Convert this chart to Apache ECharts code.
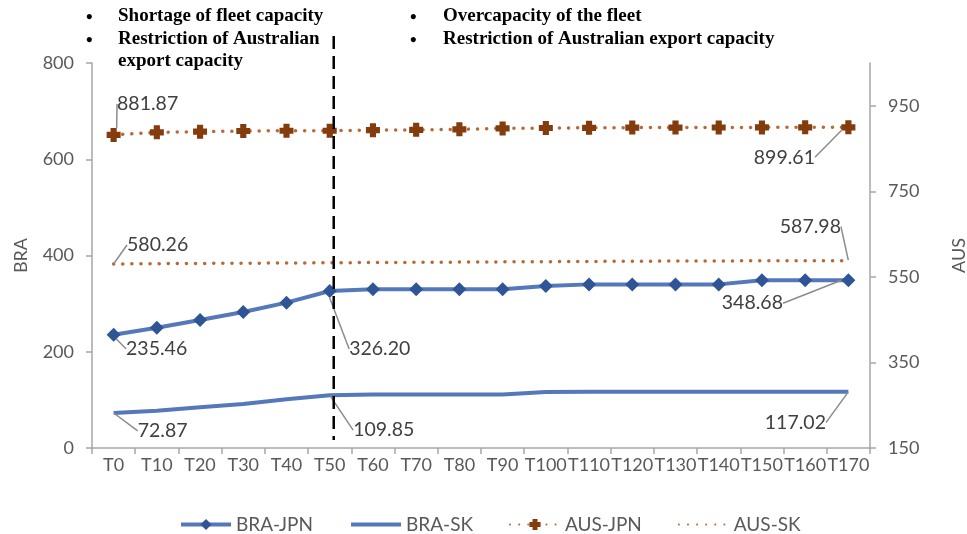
<!DOCTYPE html>
<html>
<head>
<meta charset="utf-8">
<script src="https://cdn.jsdelivr.net/npm/echarts@6/dist/echarts.min.js"></script>
<style>
  html, body { margin: 0; padding: 0; background: #fff; }
  #chart { width: 967px; height: 534px; }
</style>
</head>
<body>
<div id="chart"></div>
<script>
// Time steps shared by all four routes
const categories = ['T0','T10','T20','T30','T40','T50','T60','T70','T80','T90',
  'T100','T110','T120','T130','T140','T150','T160','T170'];

// Brazil routes (left axis)
const braJpn = [235.46, 250.0, 266.0, 282.5, 302.0, 326.20, 330.0, 330.0, 330.0, 330.0,
  336.5, 340.0, 340.0, 340.0, 340.0, 348.68, 348.68, 348.68];
const braSk = [72.87, 77.5, 84.6, 91.3, 101.2, 109.85, 111.3, 111.3, 111.3, 111.3,
  116.5, 117.02, 117.02, 117.02, 117.02, 117.02, 117.02, 117.02];

// Australian routes (right axis)
const ausJpn = [881.87, 888.0, 889.4, 891.0, 891.7, 891.7, 893.0, 893.7, 895.0, 897.0,
  898.0, 898.5, 899.0, 899.0, 899.3, 899.5, 899.6, 899.61];
const ausSk = [580.26, 580.9, 581.5, 582.0, 582.4, 583.0, 583.6, 584.0, 584.6, 585.1,
  585.6, 586.1, 586.6, 587.0, 587.3, 587.6, 587.8, 587.98];

const leftTicks = [0, 200, 400, 600, 800];
const rightTicks = [150, 350, 550, 750, 950];

const phaseNotes = {
  left: ['Shortage of fleet capacity', 'Restriction of Australian', 'export capacity'],
  right: ['Overcapacity of the fleet', 'Restriction of Australian export capacity']
};

// Label offsets (dx, dy) for the annotated points, keyed by series then index
const labelOffsets = {
  'BRA-JPN': { 0: [43, 14], 5: [50, 58], 17: [-96, 23] },
  'BRA-SK': { 0: [49, 18], 5: [54, 35], 17: [-53, 31] },
  'AUS-JPN': { 0: [34, -31], 17: [-64, 30] },
  'AUS-SK': { 0: [44, -19], 17: [-38, -34] }
};

const labelColor = '#404040';
const axisColor = '#a6a6a6';
const textColor = '#595959';
const uiFont = 'Lato';
const hidden = 'rgba(0,0,0,0)';

function withLabels(name, values) {
  const offs = labelOffsets[name];
  return values.map((v, i) => offs[i] ? {
    value: v,
    label: { show: true },
    labelLine: { show: true }
  } : v);
}

function layoutFor(name) {
  return function (p) {
    const o = labelOffsets[name][p.dataIndex];
    return o ? { dx: o[0], dy: o[1] } : {};
  };
}

const baseLabel = {
  show: false,
  position: 'inside',
  color: labelColor,
  fontFamily: uiFont,
  fontSize: 19.5,
  formatter: p => Number(p.value).toFixed(2)
};
const baseLabelLine = {
  show: false,
  lineStyle: { color: '#8c8c8c', width: 1.5 },
  length2: 0
};

const chart = echarts.init(document.getElementById('chart'), null, { renderer: 'canvas' });

const option = {
  animation: false,
  grid: { left: 92, right: 97, top: 63, bottom: 86, containLabel: false, outerBoundsMode: 'none' },
  legend: {
    top: 510,
    left: 174,
    itemWidth: 50,
    itemHeight: 14,
    itemGap: 36,
    textStyle: { color: textColor, fontFamily: uiFont, fontSize: 19 },
    data: [
      { name: 'BRA-JPN', lineStyle: { width: 4 } },
      { name: 'BRA-SK', lineStyle: { width: 4 }, itemStyle: { color: hidden, borderWidth: 0 } },
      { name: 'AUS-JPN' },
      { name: 'AUS-SK', itemStyle: { color: hidden, borderWidth: 0 } }
    ]
  },
  xAxis: {
    type: 'category',
    data: categories,
    boundaryGap: true,
    axisLine: { lineStyle: { color: axisColor, width: 1.5 } },
    axisTick: { show: true, alignWithLabel: false, length: 6, lineStyle: { color: axisColor, width: 1.5 } },
    axisLabel: { interval: 0, color: textColor, fontFamily: uiFont, fontSize: 18, margin: 8 },
    splitLine: { show: false }
  },
  yAxis: [
    {
      type: 'value',
      min: 0, max: 800, interval: 200,
      name: 'BRA',
      nameLocation: 'middle',
      nameGap: 62,
      nameRotate: 90,
      nameTextStyle: { color: textColor, fontFamily: uiFont, fontSize: 18 },
      axisLine: { show: true, lineStyle: { color: axisColor, width: 1.5 } },
      axisTick: { show: true, length: 6, lineStyle: { color: axisColor, width: 1.5 } },
      axisLabel: { color: textColor, fontFamily: uiFont, fontSize: 18, margin: 18,
        customValues: leftTicks },
      splitLine: { show: false }
    },
    {
      type: 'value',
      min: 150, max: 1050,
      position: 'right',
      name: 'AUS',
      nameLocation: 'middle',
      nameGap: 80,
      nameRotate: 90,
      nameTextStyle: { color: textColor, fontFamily: uiFont, fontSize: 18 },
      axisLine: { show: true, lineStyle: { color: axisColor, width: 1.5 } },
      axisTick: { show: true, length: 6, customValues: rightTicks,
        lineStyle: { color: axisColor, width: 1.5 } },
      axisLabel: { color: textColor, fontFamily: uiFont, fontSize: 18, margin: 18,
        customValues: rightTicks },
      splitLine: { show: false }
    }
  ],
  series: [
    {
      name: 'BRA-JPN',
      type: 'line',
      yAxisIndex: 0,
      data: withLabels('BRA-JPN', braJpn),
      symbol: 'diamond',
      symbolSize: 14,
      showSymbol: true,
      lineStyle: { color: '#5578bb', width: 4 },
      itemStyle: { color: '#2f5597' },
      label: baseLabel,
      labelLine: baseLabelLine,
      labelLayout: layoutFor('BRA-JPN'),
      z: 4
    },
    {
      name: 'BRA-SK',
      type: 'line',
      yAxisIndex: 0,
      data: withLabels('BRA-SK', braSk),
      symbol: 'circle',
      symbolSize: 1,
      showSymbol: true,
      lineStyle: { color: '#5578bb', width: 4 },
      itemStyle: { color: hidden, borderWidth: 0 },
      label: baseLabel,
      labelLine: baseLabelLine,
      labelLayout: layoutFor('BRA-SK'),
      z: 3
    },
    {
      name: 'AUS-JPN',
      type: 'line',
      yAxisIndex: 1,
      data: withLabels('AUS-JPN', ausJpn),
      symbol: 'path://M2.8,0 H7.2 V2.8 H10 V7.2 H7.2 V10 H2.8 V7.2 H0 V2.8 H2.8 Z',
      symbolSize: 14,
      showSymbol: true,
      lineStyle: { color: '#b86a35', width: 3.5, type: [0.1, 9], cap: 'round' },
      itemStyle: { color: '#843c0c' },
      label: baseLabel,
      labelLine: baseLabelLine,
      labelLayout: layoutFor('AUS-JPN'),
      z: 4
    },
    {
      name: 'AUS-SK',
      type: 'line',
      yAxisIndex: 1,
      data: withLabels('AUS-SK', ausSk),
      symbol: 'circle',
      symbolSize: 1,
      showSymbol: true,
      lineStyle: { color: '#b86a35', width: 3.5, type: [0.1, 9], cap: 'round' },
      itemStyle: { color: hidden, borderWidth: 0 },
      label: baseLabel,
      labelLine: baseLabelLine,
      labelLayout: layoutFor('AUS-SK'),
      z: 3
    }
  ]
};

chart.setOption(option);

// Phase divider and the notes describing each phase
const divX = chart.convertToPixel({ xAxisIndex: 0 }, 'T50') + 4;
const noteFont = 'bold 19px "Liberation Serif", "Times New Roman", serif';
const graphics = [
  {
    type: 'line',
    shape: { x1: divX, y1: 36, x2: divX, y2: 440 },
    style: { stroke: '#000', lineWidth: 2.5, lineDash: [13, 7] },
    z: 10
  }
];
phaseNotes.left.forEach((t, i) => {
  if (i < 2) {
    graphics.push({ type: 'text', left: 86, top: 9 + i * 22.5,
      style: { text: '•', font: noteFont, fill: '#000' } });
  }
  graphics.push({ type: 'text', left: 118, top: 7 + i * 22.5,
    style: { text: t, font: noteFont, fill: '#000' } });
});
phaseNotes.right.forEach((t, i) => {
  graphics.push({ type: 'text', left: 410, top: 9 + i * 22.5,
    style: { text: '•', font: noteFont, fill: '#000' } });
  graphics.push({ type: 'text', left: 443, top: 7 + i * 22.5,
    style: { text: t, font: noteFont, fill: '#000' } });
});
chart.setOption({ graphic: graphics });
</script>
</body>
</html>
